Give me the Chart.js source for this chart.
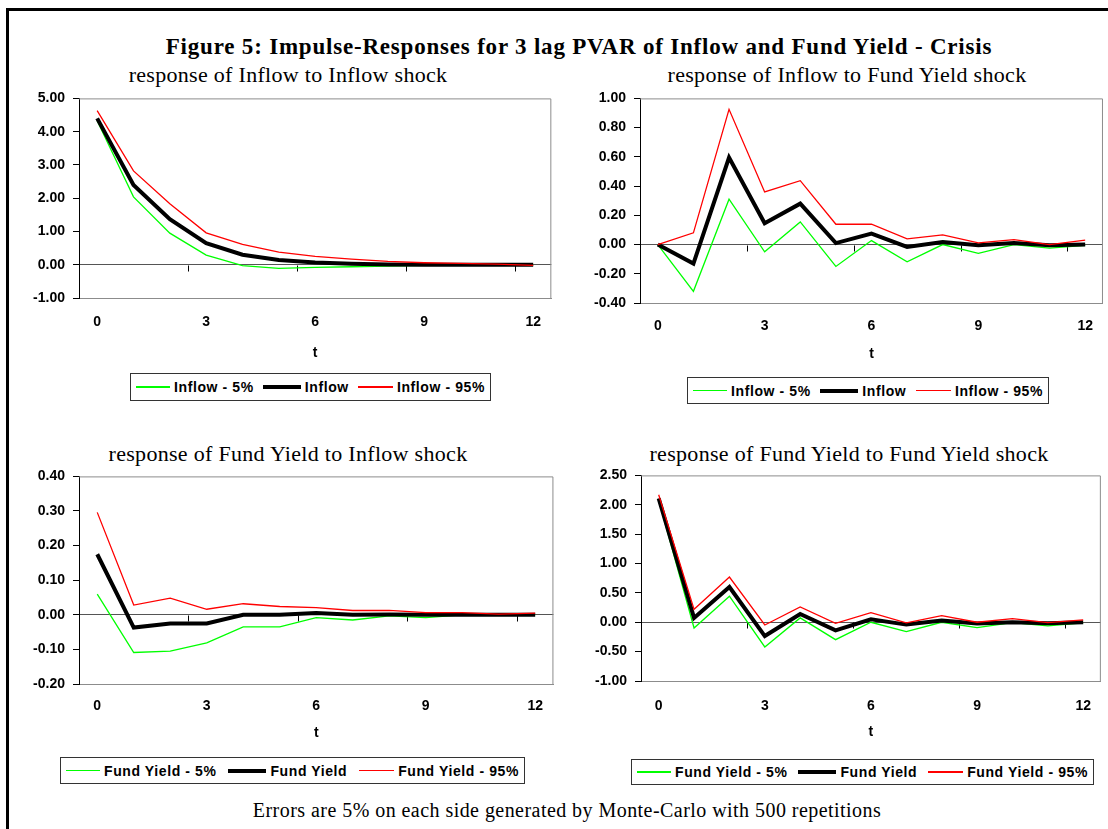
<!DOCTYPE html>
<html>
<head>
<meta charset="utf-8">
<script src="https://cdn.jsdelivr.net/npm/chart.js@4.4.1/dist/chart.umd.min.js"></script>
<style>
  body { margin: 0; background: #fff; width: 1108px; height: 829px; overflow: hidden; position: relative; }
  .frame { position: absolute; left: 6px; top: 8px; width: 1200px; height: 900px; border-left: 3px solid #000; border-top: 3px solid #000; }
  .serif { position: absolute; font-family: 'Liberation Serif', 'Times New Roman', serif; color: #000; white-space: nowrap; transform: translate(-50%, -50%); }
  .box { position: absolute; }
  .legend { position: absolute; border: 1px solid #333; box-sizing: border-box; display: flex; align-items: center; justify-content: space-between; padding: 0 5px;
            font: bold 14px 'Liberation Sans', Arial, sans-serif; letter-spacing: 0.6px; color: #000; white-space: nowrap; }
  .item { display: flex; align-items: center; }
  .sw { display: inline-block; margin-right: 4px; }
</style>
</head>
<body>
<div class="frame"></div>
<div class="serif" style="left:579px;top:47px;font-size:23px;font-weight:bold;letter-spacing:0.8px">Figure 5: Impulse-Responses for 3 lag PVAR of Inflow and Fund Yield - Crisis</div>
<div class="serif" style="left:288px;top:75px;font-size:22px;letter-spacing:0.3px">response of Inflow to Inflow shock</div>
<div class="serif" style="left:847px;top:75px;font-size:22px;letter-spacing:0.3px">response of Inflow to Fund Yield shock</div>
<div class="serif" style="left:288px;top:454px;font-size:22px;letter-spacing:0.3px">response of Fund Yield to Inflow shock</div>
<div class="serif" style="left:849px;top:454px;font-size:22px;letter-spacing:0.3px">response of Fund Yield to Fund Yield shock</div>
<div class="serif" style="left:567px;top:810px;font-size:20px;letter-spacing:0.45px">Errors are 5% on each side generated by Monte-Carlo with 500 repetitions</div>

<div class="box" style="left:12px;top:82px;width:545px;height:280px"><canvas id="c1"></canvas></div>
<div class="box" style="left:575px;top:82px;width:533px;height:281px"><canvas id="c2"></canvas></div>
<div class="box" style="left:12px;top:460px;width:545px;height:282px"><canvas id="c3"></canvas></div>
<div class="box" style="left:575px;top:459px;width:533px;height:282px"><canvas id="c4"></canvas></div>

<div id="lg1" class="legend" style="left:130px;top:373px;width:361px;height:28px"></div>
<div id="lg2" class="legend" style="left:687px;top:377px;width:362px;height:27px"></div>
<div id="lg3" class="legend" style="left:60px;top:757px;width:465px;height:27px"></div>
<div id="lg4" class="legend" style="left:631px;top:759px;width:463px;height:26px"></div>

<script>
// horizon (t)
const periods = ['0', '1', '2', '3', '4', '5', '6', '7', '8', '9', '10', '11', '12'];

// response of Inflow to Inflow shock
const inflowInflowLow  = [4.33, 2.04, 0.95, 0.29, -0.03, -0.11, -0.08, -0.06, -0.04, -0.02, -0.01, 0.00, 0.00];
const inflowInflowMid  = [4.40, 2.40, 1.37, 0.65, 0.30, 0.14, 0.07, 0.03, 0.01, 0.00, 0.00, 0.00, 0.00];
const inflowInflowHigh = [4.63, 2.82, 1.83, 0.96, 0.61, 0.38, 0.25, 0.17, 0.10, 0.06, 0.04, 0.02, -0.02];

// response of Inflow to Fund Yield shock
const inflowYieldLow  = [0.00, -0.32, 0.31, -0.05, 0.155, -0.15, 0.027, -0.118, 0.00, -0.06, 0.00, -0.025, -0.005];
const inflowYieldMid  = [0.00, -0.13, 0.595, 0.146, 0.28, 0.01, 0.075, -0.016, 0.018, -0.005, 0.01, -0.005, 0.00];
const inflowYieldHigh = [0.00, 0.08, 0.925, 0.36, 0.437, 0.139, 0.139, 0.039, 0.066, 0.011, 0.034, 0.00, 0.03];

// response of Fund Yield to Inflow shock
const yieldInflowLow  = [0.06, -0.109, -0.105, -0.081, -0.035, -0.035, -0.008, -0.015, -0.003, -0.008, 0.00, -0.001, 0.00];
const yieldInflowMid  = [0.175, -0.037, -0.025, -0.025, 0.00, 0.00, 0.005, 0.00, 0.001, 0.00, 0.00, 0.00, 0.00];
const yieldInflowHigh = [0.296, 0.028, 0.048, 0.016, 0.032, 0.024, 0.021, 0.0125, 0.0125, 0.006, 0.006, 0.002, 0.005];

// response of Fund Yield to Fund Yield shock
const yieldYieldLow  = [2.08, -0.097, 0.444, -0.42, 0.074, -0.296, 0.00, -0.16, 0.00, -0.09, -0.006, -0.063, -0.01];
const yieldYieldMid  = [2.11, 0.074, 0.60, -0.235, 0.14, -0.137, 0.05, -0.04, 0.028, -0.023, 0.00, -0.017, 0.00];
const yieldYieldHigh = [2.17, 0.22, 0.77, -0.046, 0.26, -0.017, 0.165, -0.011, 0.114, 0.00, 0.063, -0.005, 0.04];

const inflowNames = ['Inflow - 5%', 'Inflow', 'Inflow - 95%'];
const yieldNames = ['Fund Yield - 5%', 'Fund Yield', 'Fund Yield - 95%'];

const GREEN = '#00ff00';
const RED = '#ff0000';

Chart.defaults.font.family = "'Liberation Sans', Arial, sans-serif";
Chart.defaults.font.size = 14;
Chart.defaults.font.weight = 'bold';
Chart.defaults.color = '#000';

// grey box round the plot + small marks under the zero line every 3 periods
const framePlugin = {
    id: 'frame',
    beforeDatasetsDraw(chart) {
        const { ctx, chartArea: a, scales: { x, y } } = chart;
        ctx.save();
        ctx.strokeStyle = '#8c8c8c';
        ctx.lineWidth = 1;
        ctx.beginPath();
        ctx.moveTo(a.left, a.top + 0.5);
        ctx.lineTo(a.right - 0.5, a.top + 0.5);
        ctx.lineTo(a.right - 0.5, a.bottom);
        ctx.stroke();

        const y0 = Math.round(y.getPixelForValue(0)) + 0.5;
        const half = (x.getPixelForValue(1) - x.getPixelForValue(0)) / 2;
        ctx.strokeStyle = '#000';
        ctx.beginPath();
        for (let k = 0; k <= 12; k += 3) {
            const px = Math.round(x.getPixelForValue(k) - half) + 0.5;
            ctx.moveTo(px, y0);
            ctx.lineTo(px, y0 + 6);
        }
        ctx.stroke();
        ctx.restore();
    }
};

function makeChart(id, names, low, mid, high, yMin, yMax, step, yWidth, xHeight, tickPad) {
    const ctx = document.getElementById(id).getContext('2d');
    return new Chart(ctx, {
        type: 'line',
        data: {
            labels: periods,
            datasets: [
                { label: names[0], data: low, borderColor: GREEN, borderWidth: 1.3, order: 2 },
                { label: names[1], data: mid, borderColor: '#000', borderWidth: 4, order: 1 },
                { label: names[2], data: high, borderColor: RED, borderWidth: 1.3, order: 0 }
            ]
        },
        options: {
            responsive: true,
            maintainAspectRatio: false,
            animation: false,
            layout: { padding: { top: 0, right: 1, left: 0, bottom: 0 } },
            elements: { point: { radius: 0 }, line: { tension: 0 } },
            plugins: { legend: { display: false }, tooltip: { enabled: false } },
            scales: {
                x: {
                    offset: true,
                    grid: { display: false, drawTicks: false },
                    border: { display: true, color: '#8c8c8c' },
                    ticks: {
                        autoSkip: false,
                        maxRotation: 0,
                        padding: tickPad,
                        callback: (v, i) => (i % 3 === 0 ? periods[i] : '')
                    },
                    title: { display: true, text: 't', padding: { top: 0, bottom: 0 } },
                    afterFit: s => { s.height = xHeight; }
                },
                y: {
                    min: yMin,
                    max: yMax,
                    grid: {
                        color: c => (c.tick && Math.abs(c.tick.value) < 1e-9 ? '#555' : 'rgba(0,0,0,0)'),
                        tickColor: '#000',
                        tickLength: 6
                    },
                    border: { display: true, color: '#000' },
                    ticks: {
                        stepSize: step,
                        padding: 8,
                        callback: v => (Math.abs(v) < 1e-9 ? 0 : v).toFixed(2)
                    },
                    afterFit: s => { s.width = yWidth; }
                }
            }
        },
        plugins: [framePlugin]
    });
}

function makeLegend(id, names) {
    const el = document.getElementById(id);
    const styles = [
        { w: 34, h: 1.5, c: GREEN },
        { w: 38, h: 4, c: '#000' },
        { w: 35, h: 1.5, c: RED }
    ];
    names.forEach((n, i) => {
        const item = document.createElement('span');
        item.className = 'item';
        const sw = document.createElement('span');
        sw.className = 'sw';
        sw.style.width = styles[i].w + 'px';
        sw.style.height = styles[i].h + 'px';
        sw.style.background = styles[i].c;
        item.appendChild(sw);
        item.appendChild(document.createTextNode(n));
        el.appendChild(item);
    });
}

makeChart('c1', inflowNames, inflowInflowLow, inflowInflowMid, inflowInflowHigh, -1, 5, 1, 67, 64, 16);
makeChart('c2', inflowNames, inflowYieldLow, inflowYieldMid, inflowYieldHigh, -0.4, 1, 0.2, 65, 60, 15);
makeChart('c3', yieldNames, yieldInflowLow, yieldInflowMid, yieldInflowHigh, -0.2, 0.4, 0.1, 67, 58, 14);
makeChart('c4', yieldNames, yieldYieldLow, yieldYieldMid, yieldYieldHigh, -1, 2.5, 0.5, 66, 60, 17);

makeLegend('lg1', inflowNames);
makeLegend('lg2', inflowNames);
makeLegend('lg3', yieldNames);
makeLegend('lg4', yieldNames);
</script>
</body>
</html>
